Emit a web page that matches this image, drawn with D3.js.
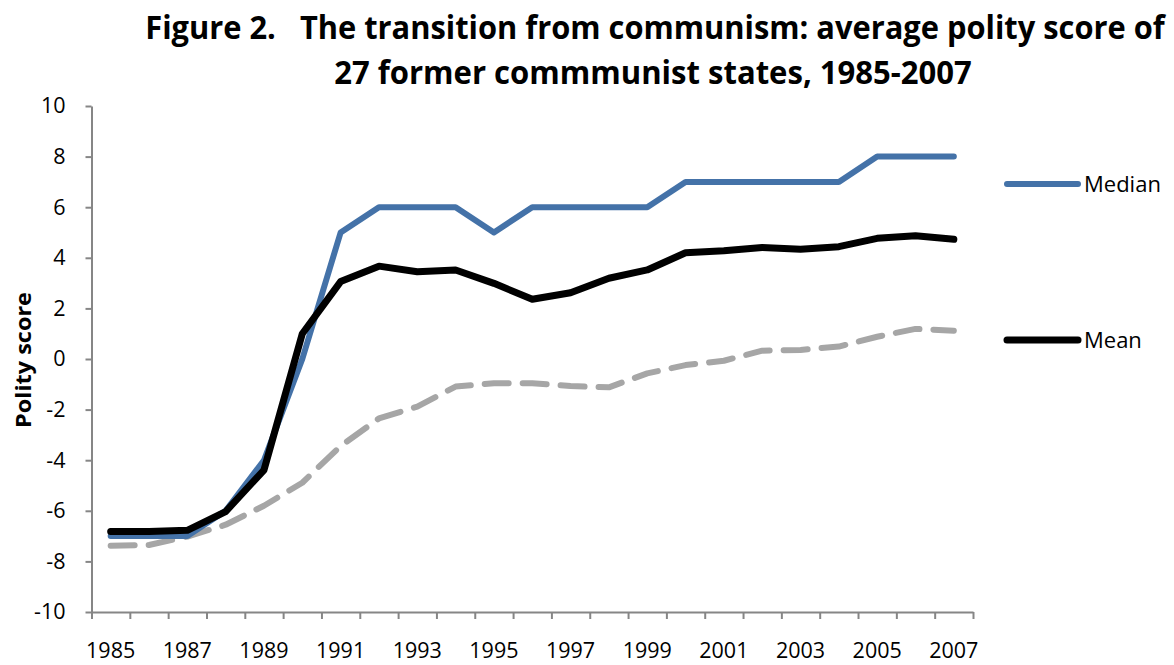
<!DOCTYPE html>
<html>
<head>
<meta charset="utf-8" />
<script src="https://d3js.org/d3.v7.min.js"></script>
<style>
  body { margin: 0; background: #fff; }
  text { font-family: "Open Sans", "Noto Sans", sans-serif; fill: #000; }
</style>
</head>
<body>
<div id="chart"></div>
<script>
// data
var years = d3.range(1985, 2008);
var median = [-7, -7, -7, -6, -4, 0, 5, 6, 6, 6, 5, 6, 6, 6, 6, 7, 7, 7, 7, 7, 8, 8, 8];
var mean = [-6.82, -6.82, -6.77, -6.03, -4.39, 1.0, 3.06, 3.67, 3.45, 3.52, 2.99, 2.36, 2.62, 3.19, 3.52,
            4.2, 4.28, 4.41, 4.34, 4.44, 4.77, 4.87, 4.73];
var third = [-7.38, -7.35, -7.02, -6.55, -5.8, -4.89, -3.44, -2.35, -1.88, -1.09, -0.96, -0.96, -1.07,
             -1.12, -0.57, -0.24, -0.07, 0.33, 0.36, 0.49, 0.88, 1.19, 1.12];
var yTicks = [-10, -8, -6, -4, -2, 0, 2, 4, 6, 8, 10];
var xLabels = [1985, 1987, 1989, 1991, 1993, 1995, 1997, 1999, 2001, 2003, 2005, 2007];

var width = 1174, height = 665;
var plot = {left: 91.5, right: 973, top: 106, bottom: 612};

var svg = d3.select("#chart").append("svg")
    .attr("width", width)
    .attr("height", height);

// title, squeezed horizontally to the width of the original narrow font
var titleLines = [
  {text: "Figure 2.   The transition from communism: average polity score of", x: 655, y: 39, w: 1020},
  {text: "27 former commmunist states, 1985-2007", x: 653, y: 84, w: 638}
];
titleLines.forEach(function(t) {
  var el = svg.append("text")
      .attr("font-weight", "bold")
      .attr("font-size", 32)
      .attr("text-anchor", "middle")
      .style("white-space", "pre")
      .text(t.text);
  var k = t.w / el.node().getComputedTextLength();
  el.attr("transform", "translate(" + t.x + "," + t.y + ") scale(" + k + ",1)");
});

// scales
var x = d3.scaleBand().domain(years).range([plot.left, plot.right]).padding(0);
var xEdge = d3.scaleLinear().domain([0, years.length]).range([plot.left, plot.right]);
var y = d3.scaleLinear().domain([-10, 10]).range([plot.bottom, plot.top]);
var cx = function(i) { return x(years[i]) + x.bandwidth() / 2; };

// y axis
var yAxis = svg.append("g")
    .attr("transform", "translate(" + plot.left + ",0)")
    .call(d3.axisLeft(y).tickValues(yTicks).tickSize(6).tickPadding(20).tickSizeOuter(0)
          .tickFormat(function(d) { return String(d); }));

// x axis: ticks between categories
var xAxis = svg.append("g")
    .attr("transform", "translate(0," + plot.bottom + ")")
    .call(d3.axisBottom(xEdge).tickValues(d3.range(0, years.length + 1)).tickSize(7)
          .tickFormat("").tickSizeOuter(0));

var xLab = svg.append("g")
    .attr("transform", "translate(0," + plot.bottom + ")")
    .call(d3.axisBottom(x).tickValues(xLabels).tickSize(0).tickPadding(31));
xLab.select(".domain").remove();

[yAxis, xAxis, xLab].forEach(function(g) {
  g.selectAll(".domain, .tick line").attr("stroke", "#868686").attr("stroke-width", 2);
  g.selectAll("text").attr("font-family", "'Open Sans', sans-serif").attr("font-size", 21.5).attr("fill", "#000");
});

// y axis title
svg.append("text")
    .attr("transform", "translate(31,360) rotate(-90)")
    .attr("text-anchor", "middle")
    .attr("font-weight", "bold")
    .attr("font-size", 21)
    .attr("textLength", 136)
    .attr("lengthAdjust", "spacingAndGlyphs")
    .text("Polity score");

// lines
var line = d3.line()
    .x(function(d, i) { return cx(i); })
    .y(function(d) { return y(d); });

svg.append("path")
    .datum(third)
    .attr("d", line)
    .attr("fill", "none")
    .attr("stroke", "#a6a6a6")
    .attr("stroke-width", 6)
    .attr("stroke-dasharray", "24,14")
    .attr("stroke-linecap", "round")
    .attr("stroke-linejoin", "round");

svg.append("path")
    .datum(median)
    .attr("d", line)
    .attr("fill", "none")
    .attr("stroke", "#4472a8")
    .attr("stroke-width", 6)
    .attr("stroke-linecap", "round")
    .attr("stroke-linejoin", "round");

svg.append("path")
    .datum(mean)
    .attr("d", line)
    .attr("fill", "none")
    .attr("stroke", "#000")
    .attr("stroke-width", 7)
    .attr("stroke-linecap", "round")
    .attr("stroke-linejoin", "round");

// legend
var legend = [
  {name: "Median", color: "#4472a8", w: 6, y: 184},
  {name: "Mean", color: "#000", w: 7, y: 340}
];
var lg = svg.selectAll(".legend").data(legend).enter().append("g")
    .attr("class", "legend")
    .attr("transform", function(d) { return "translate(1007," + d.y + ")"; });
lg.append("line")
    .attr("x1", 0).attr("x2", 71)
    .attr("stroke", function(d) { return d.color; })
    .attr("stroke-width", function(d) { return d.w; })
    .attr("stroke-linecap", "round");
lg.append("text")
    .attr("x", 77)
    .attr("dy", "0.35em")
    .attr("font-size", 22)
    .text(function(d) { return d.name; });
</script>
</body>
</html>
